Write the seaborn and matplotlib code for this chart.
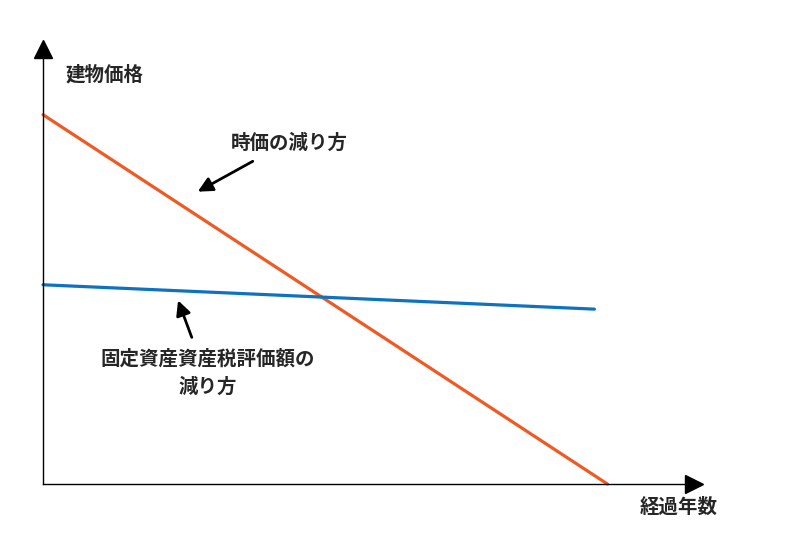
import matplotlib
matplotlib.use("Agg")
import matplotlib.pyplot as plt
import seaborn as sns
import pandas as pd

# Data (arbitrary units 0-100)
market_x = [0, 86.7]
market_y = [84.9, 0]
tax_x = [0, 84.7]
tax_y = [45.8, 40.2]

label_y = "建物価格"
label_x = "経過年数"
label_market = "時価の減り方"
label_tax = "固定資産資産税評価額の\n減り方"

sns.set_theme(style="white")
plt.rcParams['font.family'] = ['Noto Sans CJK JP', 'DejaVu Sans']

fig = plt.figure(figsize=(8, 5.33), dpi=100)
L, R, T, B = 43, 694, 49, 484
ax = fig.add_axes([L/800, (533-B)/533, (R-L)/800, (B-T)/533])

df_m = pd.DataFrame({"x": market_x, "y": market_y})
df_t = pd.DataFrame({"x": tax_x, "y": tax_y})
sns.lineplot(data=df_m, x="x", y="y", ax=ax, color="#EE5A24", lw=2.3, clip_on=False)
sns.lineplot(data=df_t, x="x", y="y", ax=ax, color="#0F72C1", lw=2.3, clip_on=False)

ax.set_xlim(0, 100)
ax.set_ylim(0, 100)
ax.set_xticks([])
ax.set_yticks([])
ax.set_xlabel("")
ax.set_ylabel("")
for s in ["top", "right"]:
    ax.spines[s].set_visible(False)
for s in ["left", "bottom"]:
    ax.spines[s].set_color("black")
    ax.spines[s].set_linewidth(1.0)

# axis arrowheads
ax.plot([0], [1], marker="^", color="black", markersize=13, transform=ax.transAxes, clip_on=False)
ax.plot([1], [0], marker=">", color="black", markersize=13, transform=ax.transAxes, clip_on=False)

fs = 14
fig.text(66/800, 1 - 75/533, label_y, fontsize=fs, fontweight="bold", ha="left", va="center")
fig.text(718/800, 1 - 507/533, label_x, fontsize=fs, fontweight="bold", ha="right", va="center")

ax.annotate("", xy=(23.4, 66.9), xytext=(32.6, 74.5),
            arrowprops=dict(arrowstyle="-|>", lw=2, color="black", mutation_scale=22))
ax.annotate("", xy=(20.6, 42.8), xytext=(23.0, 33.1),
            arrowprops=dict(arrowstyle="-|>", lw=2, color="black", mutation_scale=22))

fig.text(289/800, 1 - 143/533, label_market, fontsize=fs, fontweight="bold", ha="center", va="center")
fig.text(208/800, 1 - 373/533, label_tax, fontsize=fs, fontweight="bold", ha="center", va="center",
         linespacing=1.6)

fig.savefig("out.png", dpi=100)
